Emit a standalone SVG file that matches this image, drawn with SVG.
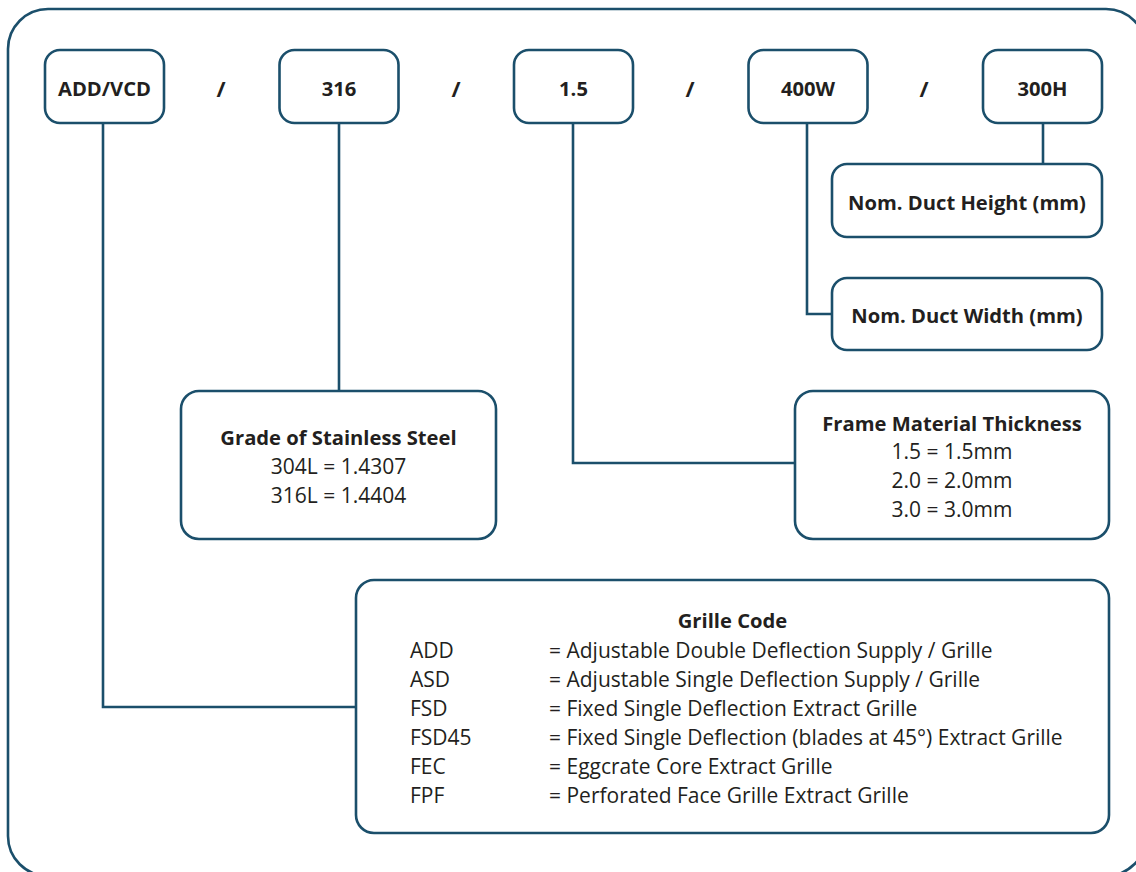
<svg xmlns="http://www.w3.org/2000/svg" width="1136" height="872" viewBox="0 0 1136 872">
<style>
.box{fill:#fff;stroke:#1b4f6b;stroke-width:2.6}
.ln{fill:none;stroke:#1b4f6b;stroke-width:2.6}
text{font-family:"Open Sans","Noto Sans","Liberation Sans",sans-serif;font-size:21px;fill:#231f20}
.b{font-weight:bold;font-size:20.2px}
.s{font-size:22px}
.c{text-anchor:middle}
</style>
<rect x="0" y="0" width="1136" height="872" fill="#fff"/>
<rect id="frame" x="8" y="9" width="1138" height="867" rx="40" ry="40" fill="none" stroke="#1b4f6b" stroke-width="2.6"/>
<g id="connectors">
<path class="ln" d="M103 123 V707 H356"/>
<path class="ln" d="M339 123 V391"/>
<path class="ln" d="M573 123 V463 H795"/>
<path class="ln" d="M807 123 V314 H832"/>
<path class="ln" d="M1043 123 V164"/>
</g>
<g id="n-addvcd"><rect class="box" x="45" y="50" width="119" height="73" rx="15"/><text class="b c" x="104.5" y="96">ADD/VCD</text></g>
<g id="n-316"><rect class="box" x="279.5" y="50" width="119" height="73" rx="15"/><text class="b c" x="339" y="96">316</text></g>
<g id="n-15"><rect class="box" x="514" y="50" width="119" height="73" rx="15"/><text class="b c" x="573.5" y="96">1.5</text></g>
<g id="n-400w"><rect class="box" x="748.5" y="50" width="119" height="73" rx="15"/><text class="b c" x="808" y="96">400W</text></g>
<g id="n-300h"><rect class="box" x="983" y="50" width="119" height="73" rx="15"/><text class="b c" x="1042.5" y="96">300H</text></g>
<g id="slashes">
<text class="b s c" x="221" y="97">/</text>
<text class="b s c" x="456" y="97">/</text>
<text class="b s c" x="690" y="97">/</text>
<text class="b s c" x="924" y="97">/</text>
</g>
<g id="n-height"><rect class="box" x="832" y="164" width="270" height="73" rx="15"/><text class="b c" x="967" y="210">Nom. Duct Height (mm)</text></g>
<g id="n-width"><rect class="box" x="832" y="278" width="270" height="72" rx="15"/><text class="b c" x="967" y="323">Nom. Duct Width (mm)</text></g>
<g id="n-grade"><rect class="box" x="181" y="391" width="315" height="148" rx="18"/>
<text class="b c" x="338.5" y="445">Grade of Stainless Steel</text>
<text class="c" x="338.5" y="474">304L = 1.4307</text>
<text class="c" x="338.5" y="503">316L = 1.4404</text></g>
<g id="n-frame"><rect class="box" x="795" y="391" width="314" height="148" rx="18"/>
<text class="b c" x="952" y="431">Frame Material Thickness</text>
<text class="c" x="952" y="459">1.5 = 1.5mm</text>
<text class="c" x="952" y="488">2.0 = 2.0mm</text>
<text class="c" x="952" y="517">3.0 = 3.0mm</text></g>
<g id="n-grille"><rect class="box" x="356" y="580" width="753" height="253" rx="18"/>
<text class="b c" x="732.5" y="628">Grille Code</text>
<text x="410" y="658">ADD</text><text x="549" y="658">= Adjustable Double Deflection Supply / Grille</text>
<text x="410" y="687">ASD</text><text x="549" y="687">= Adjustable Single Deflection Supply / Grille</text>
<text x="410" y="716">FSD</text><text x="549" y="716">= Fixed Single Deflection Extract Grille</text>
<text x="410" y="745">FSD45</text><text x="549" y="745">= Fixed Single Deflection (blades at 45°) Extract Grille</text>
<text x="410" y="774">FEC</text><text x="549" y="774">= Eggcrate Core Extract Grille</text>
<text x="410" y="803">FPF</text><text x="549" y="803">= Perforated Face Grille Extract Grille</text></g>
</svg>
